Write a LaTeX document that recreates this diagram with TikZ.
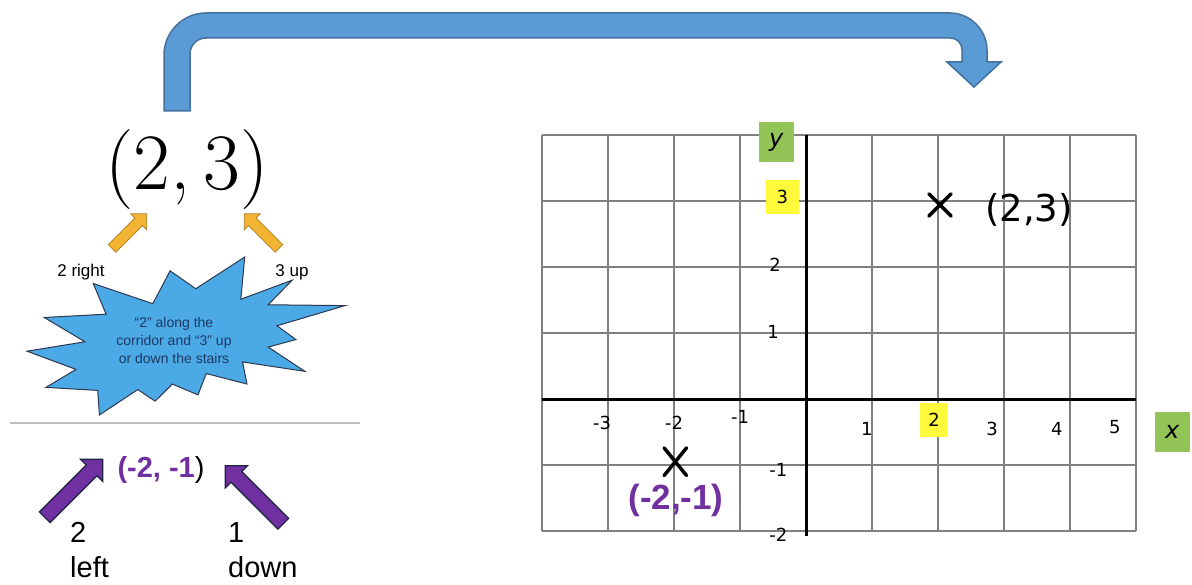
\documentclass[tikz,border=0pt]{standalone}
\usepackage{fontspec}
\usepackage{tikz}
\usetikzlibrary{shapes.arrows}
\newfontfamily\arialfont{Liberation Sans}
\newfontfamily\verdfont{DejaVu Sans}
\definecolor{bendblue}{RGB}{91,155,213}
\definecolor{bendedge}{RGB}{65,113,156}
\definecolor{burstblue}{RGB}{75,170,230}
\definecolor{burstedge}{RGB}{45,55,80}
\definecolor{burstink}{RGB}{31,56,100}
\definecolor{gold}{RGB}{242,180,50}
\definecolor{goldedge}{RGB}{170,125,30}
\definecolor{violet}{RGB}{112,48,160}
\definecolor{violetedge}{RGB}{30,35,70}
\definecolor{hlyellow}{RGB}{255,250,60}
\definecolor{axgreen}{RGB}{146,196,88}

\begin{document}
\begin{tikzpicture}[x=1pt, y=-1pt,
  gridline/.style={draw=black!50, line width=1.1pt},
  axis/.style={line width=3pt},
  tick/.style={font=\verdfont\fontsize{18}{18}\selectfont, inner sep=1pt},
  hl/.style={tick, fill=hlyellow, inner sep=0pt, minimum height=34pt},
  axlab/.style={fill=axgreen, font=\verdfont\itshape\fontsize{24}{24}\selectfont, inner sep=0pt, minimum width=35pt, minimum height=40pt},
  cross/.style={line width=3.5pt, line cap=round},
  yarrow/.style={single arrow, fill=gold, draw=goldedge, line width=0.8pt, inner xsep=0pt, inner ysep=5pt, single arrow head extend=6pt, minimum height=49pt},
  parrow/.style={single arrow, fill=violet, draw=violetedge, line width=1.2pt, inner xsep=0pt, inner ysep=7pt, single arrow head extend=8pt, minimum height=82pt},
  lab/.style={font=\arialfont\fontsize{17}{17}\selectfont, inner sep=0pt},
  biglab/.style={font=\arialfont\fontsize{29}{35}\selectfont, align=left, inner sep=0pt, anchor=north west}]
  \useasboundingbox (0,0) rectangle (1192,585);

  % bent arrow across the top
  \draw[fill=bendblue, draw=bendedge, line width=1.5pt]
    (164,111) -- (164,55) .. controls (164,32) and (183,13) .. (206,13)
    -- (950,13) .. controls (970,13) and (987,30) .. (987,50)
    -- (987,62) -- (1001,62) -- (974,87) -- (947,62) -- (962,62)
    -- (962,50) .. controls (962,43) and (957,38) .. (950,38)
    -- (206,38) .. controls (197,38) and (190,45) .. (190,54)
    -- (190,111) -- cycle;

  % left: (2,3)
  \node[font=\fontsize{80}{84}\selectfont, inner sep=0pt] (pair) at (187,170) {(2,\,3)};
  \node[yarrow, rotate=45] (aright) at (127.5,233) {};
  \node[yarrow, rotate=135] (aup) at (263.5,233) {};
  \node[lab] (right) at (81,272) {2 right};
  \node[lab] (up) at (292,272) {3 up};

  % explosion
  \begin{scope}[shift={(27,257)}, x=1.47222pt, y=-0.731481pt]
    \draw[fill=burstblue, draw=burstedge, line width=1pt]
      (114.62,43.42) -- (147.90,0) -- (145.25,57.77) -- (180.07,31.72)
      -- (163.80,65.32) -- (216,66.45) -- (169.85,94.02) -- (182.70,112.90)
      -- (163.80,123.10) -- (188.77,156.32) -- (146.40,143.50) -- (149.42,173.70)
      -- (121.80,159.35) -- (116.12,188.42) -- (98.72,173.70) -- (87.00,197.12)
      -- (75.27,181.25) -- (49.17,216) -- (48.05,182.40) -- (12.85,178.25)
      -- (33.30,153.70) -- (0,128.77) -- (39.35,115.92) -- (11.72,82.70)
      -- (53.72,78.17) -- (45.02,36.25) -- (85.50,63.82) -- (97.22,18.87) -- cycle;
  \end{scope}
  \node[font=\arialfont\fontsize{14}{18}\selectfont, text=burstink, align=center] (burst) at (174,340)
    {“2” along the\\corridor and “3” up\\or down the stairs};

  \draw[black!25, line width=1.5pt] (10,423) -- (360,423);

  % left: (-2,-1)
  \node[font=\arialfont\fontsize{29}{29}\selectfont, inner sep=0pt] (neg) at (161,470)
    {\textcolor{violet}{\bfseries(-2, -1})};
  \node[parrow, rotate=45] (aleft) at (71,491) {};
  \node[parrow, rotate=135] (adown) at (257,497.5) {};
  \node[biglab] (left) at (70,522) {2\\left};
  \node[biglab] (down) at (228,522) {1\\down};

  % grid
  \begin{scope}[shift={(806,399)}, x=66pt, y=66pt]
    \draw[gridline] (-4,-2) grid[step=1] (5,4);
    \draw[axis] (-4,0) -- (5,0);
    \draw[axis] (0,4) -- (0,-2.07);
    \node[tick] (xa) at (-3.09,-0.36) {-3};
    \node[tick] (xb) at (-2.0,-0.36) {-2};
    \node[tick] (xc) at (-1.0,-0.27) {-1};
    \node[tick] (xd) at (0.92,-0.45) {1};
    \node[hl, minimum width=28pt] (xe) at (1.94,-0.32) {2};
    \node[tick] (xf) at (2.82,-0.45) {3};
    \node[tick] (xg) at (3.8,-0.45) {4};
    \node[tick] (xh) at (4.68,-0.42) {5};
    \node[tick] (ya) at (-0.42,-2.06) {-2};
    \node[tick] (yb) at (-0.42,-1.08) {-1};
    \node[tick] (yc) at (-0.5,1.02) {1};
    \node[tick] (yd) at (-0.47,2.03) {2};
    \node[hl, minimum width=33pt] (ye) at (-0.36,3.06) {3};
    \node[axlab] (ylab) at (-0.45,3.89) {y};
    \node[axlab] (xlab) at (5.55,-0.5) {x};
    \coordinate (p) at (2.03,2.94);
    \coordinate (q) at (-1.98,-0.95);
    \draw[cross] (p) +(-0.17,-0.17) -- +(0.17,0.17);
    \draw[cross] (p) +(-0.17,0.17) -- +(0.17,-0.17);
    \draw[cross] (q) +(-0.17,-0.21) -- +(0.17,0.21);
    \draw[cross] (q) +(-0.17,0.21) -- +(0.17,-0.21);
    \node[font=\verdfont\fontsize{37}{37}\selectfont, inner sep=0pt] (plab) at (3.38,2.86) {(2,3)};
    \node[font=\arialfont\bfseries\fontsize{35}{35}\selectfont, text=violet, inner sep=0pt] (qlab) at (-1.97,-1.53) {(-2,-1)};
  \end{scope}
\end{tikzpicture}
\end{document}
